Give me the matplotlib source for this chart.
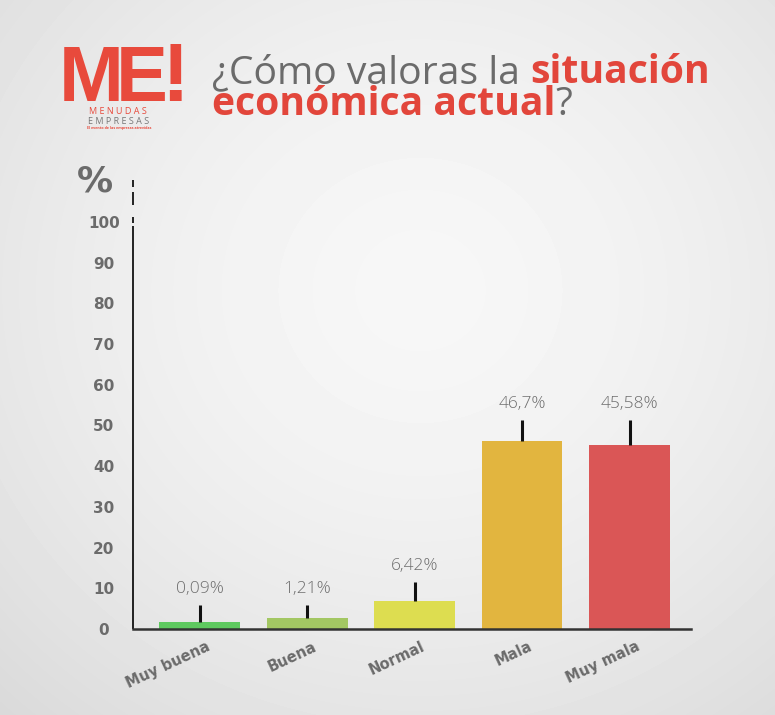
import numpy as np
import matplotlib
matplotlib.use('Agg')
import matplotlib.pyplot as plt
import matplotlib.transforms as mtransforms

# ---------------- data ----------------
categories = ['Muy buena', 'Buena', 'Normal', 'Mala', 'Muy mala']
bar_heights = [1.7, 2.7, 6.8, 46.2, 45.2]          # drawn bar heights (%)
whisker_tops = [5.9, 5.9, 11.5, 51.4, 51.4]        # top of the black marker lines (%)
value_labels = ['0,09%', '1,21%', '6,42%', '46,7%', '45,58%']
bar_colors = ['#5ec95f', '#a3c763', '#dddd50', '#e2b53f', '#da5656']
y_ticks = [0, 10, 20, 30, 40, 50, 60, 70, 80, 90, 100]
y_tick_labels = ['0', '10', '20', '30', '40', '50', '60', '70', '80', '90', '100']
title_line1 = [('¿Cómo valoras la', 'gray'), ('situación', 'red')]
title_line2 = [('económica actual', 'red'), ('?', 'gray')]

GRAY = '#6b6b6b'
RED = '#e2463b'
LOGO_RED = '#e84a3c'

W, H = 775, 715
fig = plt.figure(figsize=(W / 100, H / 100), dpi=100)


def fx(px):
    return px / W


def fy(py):
    return 1 - py / H


# ---------------- background ----------------
bg = fig.add_axes([0, 0, 1, 1])
bg.set_axis_off()
yy, xx = np.mgrid[0:H, 0:W]
d = np.hypot((xx - 420) / 600.0, (yy - 290) / 560.0)
shade = 0.968 - 0.11 * np.clip(d, 0, 1.25) ** 1.6
bg.imshow(shade, cmap='gray', vmin=0, vmax=1, extent=[0, 1, 0, 1],
          aspect='auto', interpolation='bilinear')
bg.set_xlim(0, 1)
bg.set_ylim(0, 1)

# ---------------- main axes ----------------
ax = fig.add_axes([fx(133), fy(629), fx(691) - fx(133), fy(181) - fy(629)])
ax.patch.set_alpha(0)
x = np.arange(len(categories))
ax.set_xlim(-0.619, 4.572)
ax.set_ylim(0, 110.07)

ax.bar(x, bar_heights, width=0.753, color=bar_colors, zorder=2)
ax.vlines(x, bar_heights, whisker_tops, colors='#111111', linewidth=2.2, zorder=3)
for xi, top, lbl in zip(x, whisker_tops, value_labels):
    ax.annotate(lbl, (xi, top), xytext=(0, 8.5), textcoords='offset points',
                ha='center', va='baseline', fontsize=12.5, color='#6e6e6e',
                family='Open Sans', fontweight='light')

for s in ['top', 'right', 'left']:
    ax.spines[s].set_visible(False)
ax.spines['bottom'].set_color('#333333')
ax.spines['bottom'].set_linewidth(1.8)
ax.spines['bottom'].set_zorder(4)

# left axis with broken (dashed) top
trans = ax.get_yaxis_transform()
for a, b in [(0, 99.1), (99.8, 101.2), (104.2, 107.4), (108.6, 110.2)]:
    ax.plot([0, 0], [a, b], transform=trans, color='black', lw=1.2,
            clip_on=False, solid_capstyle='butt', zorder=4)

ax.set_yticks(y_ticks)
ax.set_yticklabels(y_tick_labels)
ax.tick_params(axis='y', length=0, pad=21, labelsize=11, labelcolor=GRAY)
for lab in ax.get_yticklabels():
    lab.set_ha('center')
    lab.set_fontweight('bold')
    lab.set_family('DejaVu Sans')

ax.set_xticks(x)
ax.set_xticklabels(categories, rotation=25, ha='right', rotation_mode='anchor',
                   fontsize=10.5, fontweight='bold', color=GRAY, family='DejaVu Sans')
ax.tick_params(axis='x', length=0, pad=7)
offset = mtransforms.ScaledTranslation(0.06, 0, fig.dpi_scale_trans)
for lab in ax.get_xticklabels():
    lab.set_transform(lab.get_transform() + offset)

fig.text(fx(95), fy(182), '%', ha='center', va='center', fontsize=26,
         fontweight='bold', color=GRAY, family='DejaVu Sans')

# ---------------- title ----------------
renderer = fig.canvas.get_renderer()
TFS = 28.2
space_px = 0.26 * TFS * 100 / 72


def draw_line(pieces, x0, base):
    xpos = x0
    for i, (txt, col) in enumerate(pieces):
        bold = col == 'red'
        t = fig.text(fx(xpos), fy(base), txt, ha='left', va='baseline',
                     fontsize=TFS, color=RED if bold else GRAY,
                     fontweight='bold' if bold else 'normal', family='Open Sans')
        ext = t.get_window_extent(renderer)
        xpos = ext.x1
        if txt.endswith('la'):
            xpos += space_px


draw_line(title_line1, 212, 83)
draw_line(title_line2, 212, 115)

# ---------------- logo ----------------
LFS = 56
fig.text(fx(59), fy(101), 'M', ha='left', va='baseline', fontsize=LFS,
         fontweight='bold', color=LOGO_RED, family='Liberation Sans')
fig.text(fx(116), fy(101), 'E', ha='left', va='baseline', fontsize=LFS,
         fontweight='bold', color=LOGO_RED, family='Liberation Sans')
fig.text(fx(175), fy(101), '!', ha='center', va='baseline', fontsize=LFS + 4,
         fontweight='bold', color=LOGO_RED, family='Liberation Sans')
fig.text(fx(118), fy(114), 'M E N U D A S', ha='center', va='baseline', fontsize=6.5,
         color=LOGO_RED, family='Open Sans')
fig.text(fx(119), fy(124), 'E M P R E S A S', ha='center', va='baseline', fontsize=6.5,
         color='#777777', family='Open Sans')
fig.text(fx(119), fy(129.5), 'El evento de las empresas atrevidas', ha='center',
         va='baseline', fontsize=2.6, color=LOGO_RED, family='Open Sans', fontweight='bold')

fig.savefig('out.png', dpi=100)
